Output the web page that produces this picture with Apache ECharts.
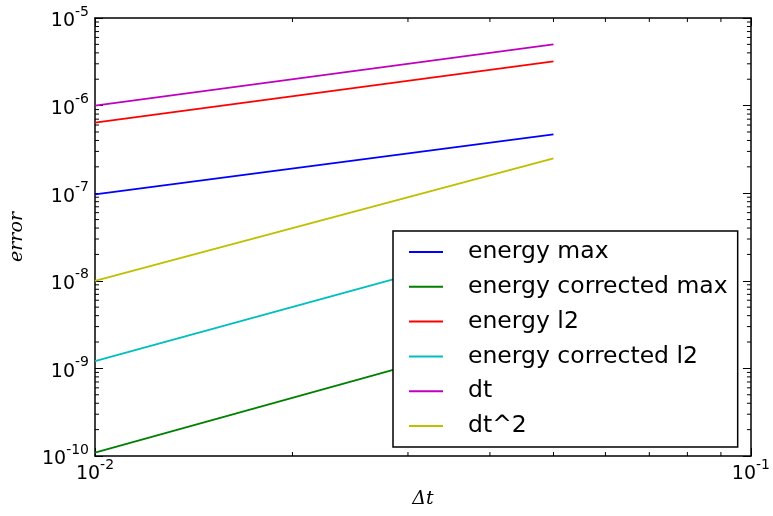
<!DOCTYPE html>
<html>
<head>
<meta charset="utf-8">
<script src="https://cdn.jsdelivr.net/npm/echarts@6/dist/echarts.min.js"></script>
<style>
  html, body { margin: 0; padding: 0; background: #fff; }
  #main { width: 773px; height: 516px; }
</style>
</head>
<body>
<div id="main"></div>
<script>
// values
var dtValues = [0.01, 0.05];
var energyMax = [9.7e-8, 4.7e-7];
var energyCorrectedMax = [1.09e-10, 3.1e-9];
var energyL2 = [6.4e-7, 3.2e-6];
var energyCorrectedL2 = [1.21e-9, 3.3e-8];
var dtRef = [1e-6, 5e-6];
var dt2Ref = [1e-8, 2.5e-7];

var seriesNames = ['energy max', 'energy corrected max', 'energy l2', 'energy corrected l2', 'dt', 'dt^2'];
var seriesColors = ['#0000ff', '#008000', '#ff0000', '#00bfbf', '#bf00bf', '#bfbf00'];
var seriesValues = [energyMax, energyCorrectedMax, energyL2, energyCorrectedL2, dtRef, dt2Ref];

// minor tick positions (log axes)
var xMinor = [0.02, 0.03, 0.04, 0.05, 0.06, 0.07, 0.08, 0.09];
var yDecades = [-10, -9, -8, -7, -6];
var minorMult = [2, 3, 4, 5, 6, 7, 8, 9];

var myChart = echarts.init(document.getElementById('main'));

function pow10Label(v) {
    var e = Math.round(Math.log(v) / Math.LN10);
    return '{b|10}{s|' + e + '}';
}

var labelRich = {
    b: { fontSize: 19, color: '#000', fontFamily: 'DejaVu Sans', verticalAlign: 'bottom', lineHeight: 26 },
    s: { fontSize: 14, color: '#000', fontFamily: 'DejaVu Sans', verticalAlign: 'top', lineHeight: 26 }
};

var series = seriesNames.map(function (name, i) {
    return {
        name: name,
        type: 'line',
        symbol: 'none',
        z: 3,
        lineStyle: { color: seriesColors[i], width: 1.8 },
        itemStyle: { color: seriesColors[i] },
        data: dtValues.map(function (x, j) { return [x, seriesValues[i][j]]; })
    };
});

var yMinorData = [];
yDecades.forEach(function (d) {
    minorMult.forEach(function (m) {
        yMinorData.push([0.01, m * Math.pow(10, d)]);
    });
});

series.push({
    type: 'custom',
    silent: true,
    z: 1,
    data: xMinor.map(function (v) { return [v, 1e-10]; }),
    renderItem: function (params, api) {
        var x = api.coord([api.value(0), api.value(1)])[0];
        var cs = params.coordSys;
        var st = { stroke: '#000', lineWidth: 1 };
        return {
            type: 'group',
            children: [
                { type: 'line', shape: { x1: x, y1: cs.y + cs.height, x2: x, y2: cs.y + cs.height - 4 }, style: st },
                { type: 'line', shape: { x1: x, y1: cs.y, x2: x, y2: cs.y + 4 }, style: st }
            ]
        };
    }
});

series.push({
    type: 'custom',
    silent: true,
    z: 1,
    data: yMinorData,
    renderItem: function (params, api) {
        var y = api.coord([api.value(0), api.value(1)])[1];
        var cs = params.coordSys;
        var st = { stroke: '#000', lineWidth: 1 };
        return {
            type: 'group',
            children: [
                { type: 'line', shape: { x1: cs.x, y1: y, x2: cs.x + 4, y2: y }, style: st },
                { type: 'line', shape: { x1: cs.x + cs.width, y1: y, x2: cs.x + cs.width - 4, y2: y }, style: st }
            ]
        };
    }
});

var option = {
    backgroundColor: '#fff',
    animation: false,
    grid: { left: 95, top: 18, right: 22, bottom: 60, containLabel: false },
    legend: {
        orient: 'vertical',
        left: 393,
        top: 231,
        data: seriesNames,
        icon: 'rect',
        itemWidth: 34,
        itemHeight: 2,
        itemGap: 10.8,
        padding: [9, 10, 9, 16],
        backgroundColor: '#fff',
        borderColor: '#000',
        borderWidth: 1.5,
        borderRadius: 0,
        textStyle: { fontSize: 23.5, color: '#000', fontFamily: 'DejaVu Sans', padding: [0, 0, 0, 20], lineHeight: 22 }
    },
    xAxis: [{
        type: 'log',
        logBase: 10,
        min: 0.01,
        max: 0.1,
        name: 'Δt',
        nameLocation: 'middle',
        nameGap: 34,
        nameTextStyle: { fontSize: 19, fontFamily: 'DejaVu Serif', fontStyle: 'italic', color: '#000' },
        axisLine: { show: true, onZero: false, lineStyle: { color: '#000', width: 1.5 } },
        axisTick: { show: true, inside: true, length: 8, lineStyle: { color: '#000' } },
        axisLabel: { margin: 2, formatter: pow10Label, rich: labelRich },
        splitLine: { show: false }
    }, {
        type: 'log',
        logBase: 10,
        min: 0.01,
        max: 0.1,
        position: 'top',
        axisLine: { show: true, onZero: false, lineStyle: { color: '#000', width: 1.5 } },
        axisTick: { show: true, inside: true, length: 8, lineStyle: { color: '#000' } },
        axisLabel: { show: false },
        splitLine: { show: false }
    }],
    yAxis: [{
        type: 'log',
        logBase: 10,
        min: 1e-10,
        max: 1e-5,
        name: 'error',
        nameLocation: 'middle',
        nameRotate: 90,
        nameGap: 68,
        nameTextStyle: { fontSize: 19, fontFamily: 'DejaVu Serif', fontStyle: 'italic', color: '#000' },
        axisLine: { show: true, onZero: false, lineStyle: { color: '#000', width: 1.5 } },
        axisTick: { show: true, inside: true, length: 8, lineStyle: { color: '#000' } },
        axisLabel: { margin: 6, formatter: pow10Label, rich: labelRich },
        splitLine: { show: false }
    }, {
        type: 'log',
        logBase: 10,
        min: 1e-10,
        max: 1e-5,
        position: 'right',
        axisLine: { show: true, onZero: false, lineStyle: { color: '#000', width: 1.5 } },
        axisTick: { show: true, inside: true, length: 8, lineStyle: { color: '#000' } },
        axisLabel: { show: false },
        splitLine: { show: false }
    }],
    series: series
};

myChart.setOption(option);
</script>
</body>
</html>
